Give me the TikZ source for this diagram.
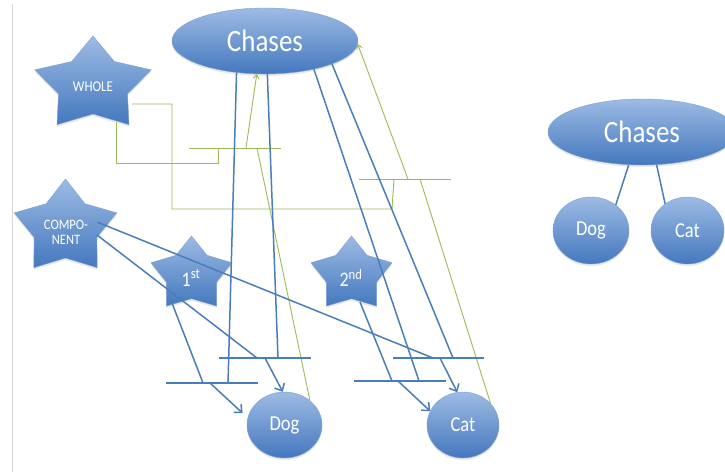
\documentclass[tikz,border=0pt]{standalone}
\usepackage{fontspec}
\setmainfont{Carlito}
\usetikzlibrary{arrows.meta,shapes.geometric,shadows}

\definecolor{accent}{RGB}{74,126,187}
\definecolor{shadetop}{RGB}{157,187,228}
\definecolor{shadebot}{RGB}{68,120,190}
\definecolor{leaf}{RGB}{155,187,89}
\definecolor{rulegray}{RGB}{217,217,217}

% slightly tall lettering
\newcommand{\tallt}[1]{\scalebox{1}[1.15]{#1}}

% five-pointed star: centre x, centre y, outer radius, inner radius, horizontal stretch
\newcommand{\drawstar}[5]{%
  \path[starfill, shift={(#1,#2)}, x=#5pt, y=1pt]
    (90:#3) -- (126:#4) -- (162:#3) -- (198:#4) -- (234:#3) -- (270:#4)
    -- (306:#3) -- (342:#4) -- (18:#3) -- (54:#4) -- cycle;}

\tikzset{
  softshadow/.style={drop shadow={opacity=0.18, shadow xshift=0pt, shadow yshift=-2pt}},
  blob/.style={ellipse, inner sep=0pt, top color=shadetop, bottom color=shadebot,
    draw=shadebot!70!white, line width=0.4pt, text=white, softshadow},
  starfill/.style={top color=shadetop, bottom color=shadebot,
    draw=shadebot!70!white, line width=0.4pt, softshadow},
  startext/.style={text=white, inner sep=0pt, align=center},
  link/.style={draw=accent, line width=1.5pt},
  linkarrow/.style={link, -{Straight Barb[length=6pt,width=11pt]}},
  bar/.style={draw=accent, line width=1.8pt},
  gline/.style={draw=leaf, line width=0.9pt},
  garrow/.style={gline, -{Straight Barb[length=4pt,width=6pt]}},
}

\begin{document}
\begin{tikzpicture}[x=1pt, y=-1pt]
  \useasboundingbox (0,0) rectangle (725,472);
  \clip (0,0) rectangle (725,472);
  \fill[white] (0,0) rectangle (725,472);

  % margin rule
  \draw[rulegray, line width=0.8pt] (12,4) -- (12,472);

  % stars
  \drawstar{93}{85}{49}{29}{1.25}
  \drawstar{65.5}{228}{49}{30}{1.1}
  \drawstar{191.5}{274.7}{38.7}{24}{1.1}
  \drawstar{351.5}{274.7}{38.7}{24}{1.1}
  \node[startext, font=\fontsize{13}{14}\selectfont] (whole) at (93,87) {\tallt{WHOLE}};
  \node[startext, font=\fontsize{12.5}{15}\selectfont] (component) at (66,232) {\tallt{COMPO-}\\\tallt{NENT}};
  \node[startext, font=\fontsize{18}{20}\selectfont] (first) at (191,278) {\tallt{1\textsuperscript{st}}};
  \node[startext, font=\fontsize{18}{20}\selectfont] (second) at (351,278) {\tallt{2\textsuperscript{nd}}};

  % ellipses
  \node[blob, minimum width=186pt, minimum height=66pt, font=\fontsize{27}{30}\selectfont] (chases) at (265,41) {\tallt{Chases}};
  \node[blob, minimum width=75pt, minimum height=66pt, font=\fontsize{18.5}{20}\selectfont] (dog) at (284.5,425) {\tallt{Dog}};
  \node[blob, minimum width=72pt, minimum height=66pt, font=\fontsize{18.5}{20}\selectfont] (cat) at (463,425) {\tallt{Cat}};

  \node[blob, minimum width=188pt, minimum height=66pt, font=\fontsize{27}{30}\selectfont] (chasesR) at (642,132) {\tallt{Chases}};
  \node[blob, minimum width=76pt, minimum height=67pt, font=\fontsize{18.5}{20}\selectfont] (dogR) at (591,230.5) {\tallt{Dog}};
  \node[blob, minimum width=73pt, minimum height=67pt, font=\fontsize{18.5}{20}\selectfont] (catR) at (687.5,230.5) {\tallt{Cat}};

  % attachment points on the stars
  \coordinate (whole-a) at (116,122);
  \coordinate (whole-b) at (132,104);
  \coordinate (comp-a) at (97,222);
  \coordinate (comp-b) at (97,235);
  \coordinate (first-out) at (172,303);
  \coordinate (second-out) at (360,302);

  % bars and their join points
  \coordinate (dlbL) at (166,383); \coordinate (dlbR) at (258,383);
  \coordinate (dubL) at (219,358); \coordinate (dubR) at (311,358);
  \coordinate (clbL) at (354,381); \coordinate (clbR) at (446,381);
  \coordinate (cubL) at (393,358); \coordinate (cubR) at (484,358);
  \coordinate (dlbA) at (228,383); \coordinate (dlbS) at (203,383); \coordinate (dlbO) at (210,383);
  \coordinate (dubA) at (278,358); \coordinate (dubC) at (257,358); \coordinate (dubO) at (265,358);
  \coordinate (clbA) at (419,381); \coordinate (clbS) at (392,381); \coordinate (clbO) at (398,381);
  \coordinate (cubA) at (453,358); \coordinate (cubC) at (433,358); \coordinate (cubO) at (440,358);

  \coordinate (g1L) at (189,148); \coordinate (g1R) at (281,148);
  \coordinate (g2L) at (359,179); \coordinate (g2R) at (451,179);
  \coordinate (g1W) at (218,148); \coordinate (g1O) at (246,148); \coordinate (g1D) at (257,148);
  \coordinate (g2W) at (394,179); \coordinate (g2O) at (408,179); \coordinate (g2C) at (420,179);
  \coordinate (bend1) at (218,163);
  \coordinate (bend2) at (172,209);
  \coordinate (bend3) at (392,209);

  % green whole-links
  \draw[gline] (whole-a) |- (bend1) -- (g1W);
  \draw[gline] (whole-b) -| (bend2) -- (bend3) -- (g2W);
  \draw[gline] (g1L) -- (g1R);
  \draw[gline] (g2L) -- (g2R);
  \draw[garrow] (g1O) -- (chases.256);
  \draw[gline] (dog.44) -- (g1D);
  \draw[garrow] (g2O) -- (chases.358);
  \draw[gline] (cat.38) -- (g2C);

  % blue component links
  \draw[link] (chases.228) -- (dlbA);
  \draw[link] (chases.274) -- (dubA);
  \draw[link] (chases.330) -- (clbA);
  \draw[link] (chases.341) -- (cubA);
  \draw[link] (first-out) -- (dlbS);
  \draw[link] (comp-b) -- (dubC);
  \draw[link] (comp-a) -- (cubC);
  \draw[link] (second-out) -- (clbS);

  \draw[bar] (dlbL) -- (dlbR);
  \draw[bar] (dubL) -- (dubR);
  \draw[bar] (clbL) -- (clbR);
  \draw[bar] (cubL) -- (cubR);

  \draw[linkarrow, shorten >=7pt] (dlbO) -- (dog.169);
  \draw[linkarrow] (dubO) -- (dog.93);
  \draw[linkarrow] (clbO) -- (cat.157);
  \draw[linkarrow] (cubO) -- (cat.100);

  % small tree
  \draw[link] (chasesR.248) -- (dogR.46);
  \draw[link] (chasesR.294) -- (catR.130);
\end{tikzpicture}
\end{document}
